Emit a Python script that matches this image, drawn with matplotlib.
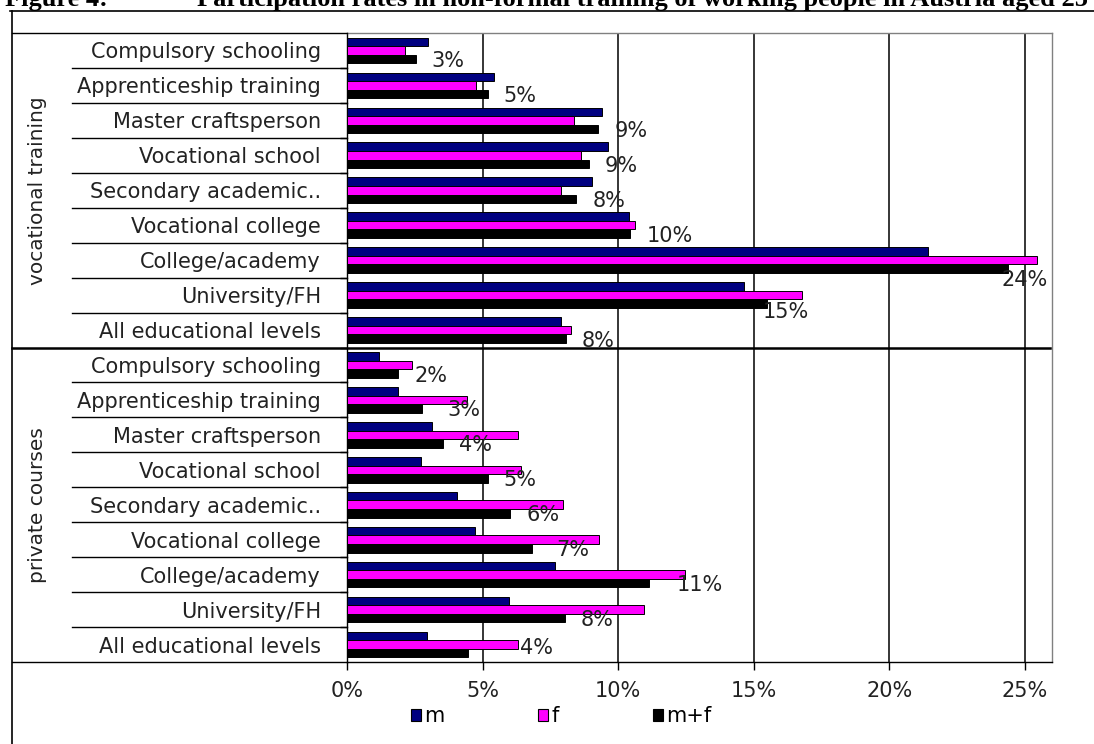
import matplotlib
matplotlib.use("Agg")
import matplotlib.pyplot as plt
import matplotlib.transforms as mtransforms
from matplotlib.lines import Line2D
from matplotlib.patches import Rectangle
import numpy as np

# ---- data -------------------------------------------------------------
levels = ["Compulsory schooling", "Apprenticeship training", "Master craftsperson",
          "Vocational school", "Secondary academic..", "Vocational college",
          "College/academy", "University/FH", "All educational levels"]
groups = ["vocational training", "private courses"]

voc_m = [2.99, 5.43, 9.39, 9.63, 9.04, 10.39, 21.44, 14.64, 7.89]
voc_f = [2.13, 4.75, 8.37, 8.61, 7.89, 10.62, 25.44, 16.77, 8.24]
voc_mf = [2.53, 5.18, 9.26, 8.92, 8.45, 10.45, 24.39, 15.47, 8.07]

priv_m = [1.17, 1.88, 3.11, 2.71, 4.06, 4.71, 7.66, 5.96, 2.95]
priv_f = [2.38, 4.41, 6.29, 6.41, 7.95, 9.30, 12.46, 10.96, 6.29]
priv_mf = [1.88, 2.77, 3.54, 5.18, 6.02, 6.83, 11.14, 8.03, 4.47]

x_ticks = [0, 5, 10, 15, 20, 25]
series_names = ["m", "f", "m+f"]

title_label = "Figure 4:"
title_text = ("Participation rates in non-formal training of working people "
              "in Austria aged 25 to 64")

# ---- styling ----------------------------------------------------------
W, H = 1094, 744
colors = ["#000080", "#FF00FF", "#000000"]
FS = 15
plt.rcParams["font.family"] = ["DejaVu Sans"]

# hand-placed value labels (row index -> shift in pixels, x right / y down)
label_nudge = {6: (-23, 9), 7: (-20, 6), 10: (9, 0), 14: (8, 0),
               15: (11, 0), 17: (36, -7)}

m_all = voc_m + priv_m
f_all = voc_f + priv_f
mf_all = voc_mf + priv_mf
labels_all = levels + levels
rows = np.arange(len(labels_all))

fig = plt.figure(figsize=(W / 100, H / 100), dpi=100)
ax_left, ax_top, ax_bottom = 347.3, 33, 662
px_per_unit = 27.1
xmax = 26
ax = fig.add_axes([ax_left / W, 1 - ax_bottom / H,
                   xmax * px_per_unit / W, (ax_bottom - ax_top) / H])

bh = 0.245
for vals, off, col in zip([m_all, f_all, mf_all], [-bh, 0, bh], colors):
    ax.barh(rows + off, vals, height=bh, color=col, edgecolor="black",
            linewidth=0.7, zorder=3)

# value labels for m+f
px2pt = 0.72
for r, v in zip(rows, mf_all):
    dx, dy = label_nudge.get(r, (0, 0))
    ax.annotate(f"{v:.0f}%", (v, r + bh),
                xytext=((16 + dx) * px2pt, -(2 + dy) * px2pt),
                textcoords="offset points", ha="left", va="center",
                fontsize=FS, color="#222222", zorder=4, annotation_clip=False)

ax.set_xlim(0, xmax)
ax.set_ylim(len(rows) - 0.5, -0.5)

ax.set_xticks(x_ticks)
ax.set_xticklabels([f"{t}%" for t in x_ticks], fontsize=FS, color="#222222")
ax.tick_params(axis="x", length=6, width=1, pad=8, color="black")
ax.xaxis.grid(True, color="black", linewidth=1.1, zorder=1)

ax.set_yticks(rows)
ax.set_yticklabels(labels_all, fontsize=FS, color="#222222")
ax.tick_params(axis="y", which="major", length=0, pad=19)
ax.set_yticks(np.arange(0.5, len(rows) - 1, 1.0), minor=True)
ax.tick_params(axis="y", which="minor", length=5, width=1, color="black")

for s in ["top", "right"]:
    ax.spines[s].set_color("#808080")
    ax.spines[s].set_linewidth(1.0)
for s in ["left", "bottom"]:
    ax.spines[s].set_color("black")
    ax.spines[s].set_linewidth(1.0)

# table lines of the category column
blend = mtransforms.blended_transform_factory(fig.transFigure, ax.transData)
for b in np.arange(0.5, len(rows) - 1, 1.0):
    if b == len(levels) - 0.5:
        continue
    fig.add_artist(Line2D([72 / W, ax_left / W], [b, b], transform=blend,
                          color="black", linewidth=1.0))
for b in [-0.5, len(rows) - 0.5]:
    fig.add_artist(Line2D([12 / W, ax_left / W], [b, b], transform=blend,
                          color="black", linewidth=1.0))
sep = len(levels) - 0.5
fig.add_artist(Line2D([12 / W, 1050 / W], [sep, sep], transform=blend,
                      color="black", linewidth=1.8, zorder=5))

# group labels
for g, name in enumerate(groups):
    centre = g * len(levels) + (len(levels) - 1) / 2
    fig.text(38 / W, centre, name, transform=blend, rotation=90,
             ha="center", va="center", fontsize=14.5, color="#222222")

# outer frame
fig.add_artist(Line2D([12 / W, 12 / W], [0, 1 - 10.5 / H], transform=fig.transFigure,
                      color="black", linewidth=1.2))
fig.add_artist(Line2D([10 / W, 1], [1 - 10.5 / H, 1 - 10.5 / H], transform=fig.transFigure,
                      color="black", linewidth=1.2))

# heading (runs past the top edge of the page)
fig.text(5 / W, 1 - 6 / H, title_label, fontfamily="Liberation Serif",
         fontweight="bold", fontsize=19, va="baseline", ha="left")
fig.text(197 / W, 1 - 6 / H, title_text, fontfamily="Liberation Serif",
         fontweight="bold", fontsize=19, va="baseline", ha="left")

# legend
handles = [Rectangle((0, 0), 1, 1, facecolor=c, edgecolor="black", linewidth=0.8)
           for c in colors]
fig.legend(handles, series_names, loc="center", bbox_to_anchor=(561 / W, 1 - 716 / H),
           bbox_transform=fig.transFigure, ncol=3, frameon=False,
           handlelength=0.5, handleheight=0.5, handletextpad=0.15,
           columnspacing=4.5, fontsize=FS, borderpad=0)

fig.savefig("out.png", dpi=100)
